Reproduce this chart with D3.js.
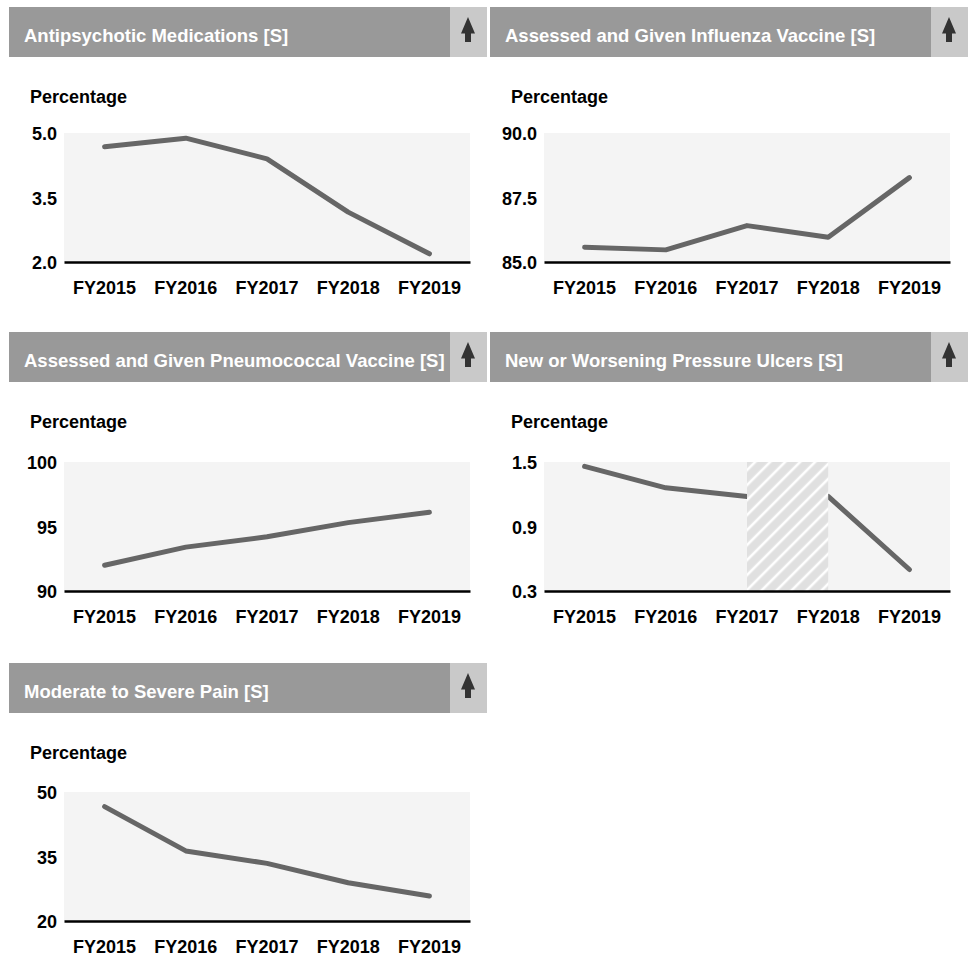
<!DOCTYPE html>
<html>
<head>
<meta charset="utf-8">
<script src="https://cdn.jsdelivr.net/npm/d3@7"></script>
<style>
  html, body { margin: 0; padding: 0; background: #ffffff; }
  svg { display: block; font-family: "Liberation Sans", Arial, sans-serif; font-weight: bold; }
</style>
</head>
<body>
<svg id="chart" width="972" height="957"></svg>
<script>
// Fiscal years shown on every panel
const years = ["FY2015", "FY2016", "FY2017", "FY2018", "FY2019"];

// Measure titles
const titles = [
  "Antipsychotic Medications [S]",
  "Assessed and Given Influenza Vaccine [S]",
  "Assessed and Given Pneumococcal Vaccine [S]",
  "New or Worsening Pressure Ulcers [S]",
  "Moderate to Severe Pain [S]"
];

// Percentage values per measure
const antipsychotic = [4.68, 4.88, 4.40, 3.16, 2.19];
const influenza     = [85.57, 85.47, 86.41, 85.96, 88.27];
const pneumococcal  = [92.0, 93.4, 94.2, 95.3, 96.1];
const pressureUlcers = [1.46, 1.26, 1.18, 1.18, 0.50];
const pain          = [46.6, 36.3, 33.4, 28.9, 25.8];

// Y-axis tick labels per measure
const antipsychoticTicks = [2.0, 3.5, 5.0];
const influenzaTicks     = [85.0, 87.5, 90.0];
const pneumococcalTicks  = [90, 95, 100];
const pressureTicks      = [0.3, 0.9, 1.5];
const painTicks          = [20, 35, 50];

// Pressure ulcer series is not comparable across this span (shown hatched)
const pressureBreak = ["FY2017", "FY2018"];

const panels = [
  { title: titles[0], values: antipsychotic,  ticks: antipsychoticTicks, fmt: ".1f", col: 0, row: 0 },
  { title: titles[1], values: influenza,      ticks: influenzaTicks,     fmt: ".1f", col: 1, row: 0 },
  { title: titles[2], values: pneumococcal,   ticks: pneumococcalTicks,  fmt: "d",   col: 0, row: 1 },
  { title: titles[3], values: pressureUlcers, ticks: pressureTicks,      fmt: ".1f", col: 1, row: 1, brk: pressureBreak },
  { title: titles[4], values: pain,           ticks: painTicks,          fmt: "d",   col: 0, row: 2 }
];

// Layout
const colHeaderX = [9, 490];
const colPlotX = [64, 544];
const rowHeaderY = [7, 332, 663];
const rowPlotY = [133, 462, 792];
const headerW = 478, headerH = 50, arrowW = 37;
const plotW = 406, plotH = 129;

const svg = d3.select("#chart");

// Diagonal hatch for the break region
const defs = svg.append("defs");
const pat = defs.append("pattern")
  .attr("id", "hatch")
  .attr("patternUnits", "userSpaceOnUse")
  .attr("width", 10.6).attr("height", 10.6)
  .attr("patternTransform", "rotate(45)");
pat.append("rect").attr("width", 10.6).attr("height", 10.6).attr("fill", "#e0e0e0");
pat.append("line").attr("x1", 2).attr("y1", 0).attr("x2", 2).attr("y2", 10.6)
  .attr("stroke", "#ffffff").attr("stroke-width", 2.6);

panels.forEach(p => {
  const hx = colHeaderX[p.col], hy = rowHeaderY[p.row];
  const px = colPlotX[p.col], py = rowPlotY[p.row];
  const g = svg.append("g");

  // Header bar with title and arrow box
  g.append("rect").attr("x", hx).attr("y", hy).attr("width", headerW - arrowW).attr("height", headerH)
    .attr("fill", "#999999");
  g.append("rect").attr("x", hx + headerW - arrowW).attr("y", hy).attr("width", arrowW).attr("height", headerH)
    .attr("fill", "#c9c9c9");
  g.append("text").attr("x", hx + 15).attr("y", hy + 35)
    .attr("fill", "#ffffff").attr("font-size", 18.5).text(p.title);

  const ax = hx + headerW - arrowW / 2 - 0.5, ay = hy + 10;
  g.append("path")
    .attr("d", `M${ax},${ay} L${ax + 7},${ay + 16.5} L${ax + 3},${ay + 16.5} L${ax + 3},${ay + 25} ` +
               `L${ax - 3},${ay + 25} L${ax - 3},${ay + 16.5} L${ax - 7},${ay + 16.5} Z`)
    .attr("fill", "#333333");

  // Y-axis title
  g.append("text").attr("x", colHeaderX[p.col] + 21).attr("y", hy + 96)
    .attr("fill", "#000").attr("font-size", 18).text("Percentage");

  // Scales
  const x = d3.scaleBand().domain(years).range([px, px + plotW]);
  const y = d3.scaleLinear().domain([p.ticks[0], p.ticks[p.ticks.length - 1]]).range([py + plotH, py]);
  const cx = d => x(d) + x.bandwidth() / 2;

  // Plot background
  g.append("rect").attr("x", px).attr("y", py).attr("width", plotW).attr("height", plotH)
    .attr("fill", "#f4f4f4");

  // Line (split around a break if present)
  const pts = years.map((yr, i) => ({ yr, v: p.values[i], i }));
  const line = d3.line().x(d => cx(d.yr)).y(d => y(d.v));
  let segments = [pts];
  if (p.brk) {
    const b0 = years.indexOf(p.brk[0]), b1 = years.indexOf(p.brk[1]);
    segments = [pts.slice(0, b0 + 1), pts.slice(b1)];
  }
  segments.forEach(seg => {
    g.append("path").datum(seg).attr("d", line)
      .attr("fill", "none").attr("stroke", "#666666").attr("stroke-width", 5)
      .attr("stroke-linejoin", "round").attr("stroke-linecap", "round");
  });

  if (p.brk) {
    g.append("rect")
      .attr("x", cx(p.brk[0])).attr("y", py)
      .attr("width", cx(p.brk[1]) - cx(p.brk[0])).attr("height", plotH)
      .attr("fill", "url(#hatch)");
  }

  // Y axis labels
  const yAxis = d3.axisLeft(y).tickValues(p.ticks).tickFormat(d3.format(p.fmt)).tickSize(0).tickPadding(7);
  const yg = g.append("g").attr("transform", `translate(${px},1)`).call(yAxis);
  yg.select(".domain").remove();
  yg.selectAll("text").attr("font-size", 18).attr("font-family", null).attr("fill", "#000");

  // X axis with baseline
  const xAxis = d3.axisBottom(x).tickSize(0).tickSizeOuter(0).tickPadding(19);
  const xg = g.append("g").attr("transform", `translate(0,${py + plotH})`).call(xAxis);
  xg.select(".domain").attr("stroke", "#000").attr("stroke-width", 2.6);
  xg.selectAll("text").attr("font-size", 18).attr("font-family", null).attr("fill", "#000");
});
</script>
</body>
</html>
